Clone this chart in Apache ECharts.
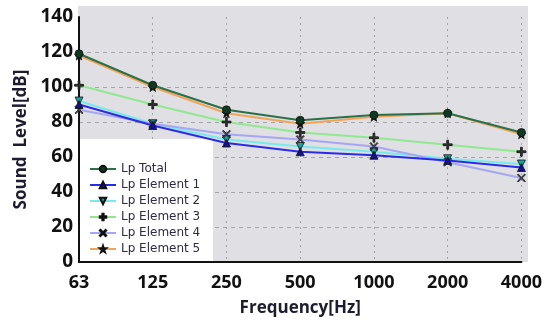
<!DOCTYPE html>
<html><head><meta charset="utf-8">
<script src="https://cdn.jsdelivr.net/npm/echarts@6/dist/echarts.min.js"></script>
<style>html,body{margin:0;padding:0;background:#fff}#c{width:545px;height:324px}</style>
</head><body><div id="c"></div>
<script>
var categories = ['63','125','250','500','1000','2000','4000'];
var lpTotal = [119, 101, 87, 81, 84, 85, 74];
var lpE1 = [90, 78, 68, 63, 61, 58, 54];
var lpE2 = [92, 79, 70, 66, 63, 59, 56];
var lpE3 = [101, 90, 80, 74, 71, 67, 63];
var lpE4 = [87, 79, 73, 70, 66, 57, 48];
var lpE5 = [118, 100, 85, 79, 83, 85, 73];
var yTicks = [0, 140, 20];

var chart = echarts.init(document.getElementById('c'));
var plus = 'path://M4,0H6V4H10V6H6V10H4V6H0V4H4Z';
var cross = 'path://M1,0L5,4L9,0L10,1L6,5L10,9L9,10L5,6L1,10L0,9L4,5L0,1Z';
var tri = 'path://M5,0L10,9L0,9Z';
var triDown = 'path://M0,0L10,0L5,9Z';
var star = 'path://M5,0L6.2,3.8L10,3.8L7,6.2L8.1,10L5,7.7L1.9,10L3,6.2L0,3.8L3.8,3.8Z';
function mk(name, data, color, symbol, mcolor, size, z) {
  return {name: name, type: 'line', data: data, symbol: symbol, symbolSize: size, z: z,
    lineStyle: {color: color, width: 2}, itemStyle: {color: mcolor, borderColor: '#111', borderWidth: 0.8}};
}
var g = '#a3a3a8';
chart.setOption({
  animation: false,
  graphic: [
    {type: 'rect', z: -10, shape: {x: 78, y: 6, width: 450, height: 256}, style: {fill: '#e0dfe4'}},
    {type: 'rect', z: 1, shape: {x: 80, y: 139, width: 133, height: 122}, style: {fill: '#ffffff'}}
  ],
  grid: {left: 79, right: 23, top: 17, bottom: 62},
  legend: {
    orient: 'vertical', left: 84, top: 158, itemWidth: 26, itemHeight: 8, itemGap: 4,
    textStyle: {fontFamily: 'DejaVu Sans', fontSize: 12, color: '#2b2b4a', fontWeight: 'normal'},
    data: ['Lp Total','Lp Element 1','Lp Element 2','Lp Element 3','Lp Element 4','Lp Element 5']
  },
  xAxis: {
    type: 'category', data: categories, boundaryGap: false,
    name: 'Frequency[Hz]', nameLocation: 'middle', nameGap: 38,
    nameTextStyle: {fontFamily: 'Open Sans', fontWeight: 'bold', fontSize: 17, color: '#1c1c30'},
    axisLine: {lineStyle: {color: '#111', width: 2}},
    axisTick: {show: false},
    axisLabel: {fontFamily: 'Open Sans', fontWeight: 'bold', fontSize: 18, color: '#111', margin: 12},
    splitLine: {show: true, lineStyle: {color: g, type: [2, 4], width: 1}}
  },
  yAxis: {
    type: 'value', min: yTicks[0], max: yTicks[1], interval: yTicks[2],
    name: 'Sound  Level[dB]', nameLocation: 'middle', nameGap: 49, nameRotate: 90,
    nameTextStyle: {fontFamily: 'Open Sans', fontWeight: 'bold', fontSize: 17, color: '#1c1c30'},
    axisLine: {show: true, lineStyle: {color: '#111', width: 2}},
    axisTick: {show: false},
    axisLabel: {fontFamily: 'Open Sans', fontWeight: 'bold', fontSize: 19, color: '#111', margin: 6},
    splitLine: {show: true, lineStyle: {color: ['rgba(0,0,0,0)', g, g, g, g, g, g, 'rgba(0,0,0,0)'], type: [4, 4], width: 1}}
  },
  series: [
    mk('Lp Total', lpTotal, '#2a7048', 'circle', '#0e3a22', 8, 9),
    mk('Lp Element 1', lpE1, '#2b2be6', tri, '#12128a', 8, 5),
    mk('Lp Element 2', lpE2, '#79eaea', triDown, '#1aa0a0', 8, 4),
    mk('Lp Element 3', lpE3, '#90e890', plus, '#333333', 9, 3),
    mk('Lp Element 4', lpE4, '#a6a6f2', cross, '#555566', 8, 4),
    mk('Lp Element 5', lpE5, '#f2a45a', star, '#111111', 9, 6)
  ]
});
</script></body></html>
